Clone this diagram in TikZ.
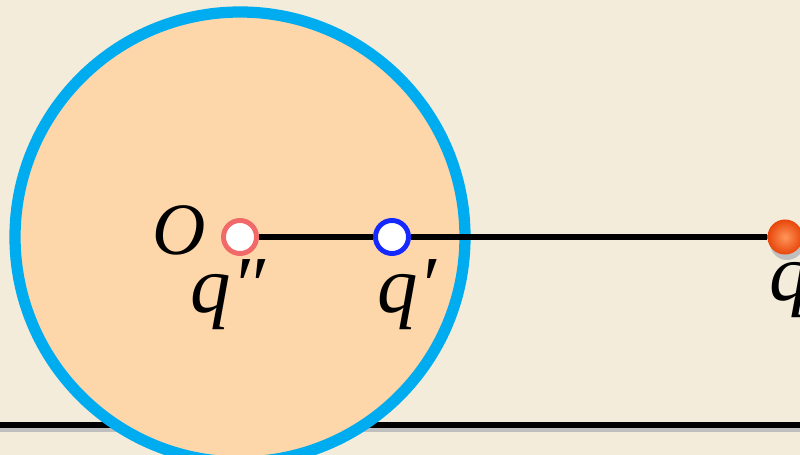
\documentclass[tikz,border=0pt]{standalone}
\usepackage{fontspec}
\setmainfont{Liberation Serif}
\usepackage{tikz}
\usetikzlibrary{positioning, calc, shadings}
\definecolor{paperBg}{RGB}{243, 236, 219}
\definecolor{sphereFill}{RGB}{253, 214, 170}
\definecolor{sphereRing}{RGB}{0, 172, 240}
\definecolor{imageRed}{RGB}{242, 105, 105}
\definecolor{imageBlue}{RGB}{20, 40, 255}
\definecolor{chargeOrange}{RGB}{232, 70, 10}
\definecolor{chargeLight}{RGB}{255, 150, 90}
\tikzset{
  imagecharge/.style={
    circle, fill=white, line width=1.4pt,
    minimum size=0.33cm, inner sep=0pt
  },
  realcharge/.style={
    circle, shading=radial, inner color=chargeLight, outer color=chargeOrange,
    minimum size=0.35cm, inner sep=0pt
  },
  rodline/.style={
    line width=1.45pt, color=black
  },
  chargelabel/.style={
    font=\fontsize{23}{23}\selectfont\itshape, inner sep=0pt
  }
}

\begin{document}
\begin{tikzpicture}[x=0.01cm, y=-0.01cm]

  % background and frame
  \fill[paperBg] (0,0) rectangle (800,455);
  \useasboundingbox (0,0) rectangle (800,455);

  \coordinate (floorL) at (0,425);
  \coordinate (floorR) at (800,425);
  \draw[line width=1.5pt, black!25] ($(floorL)+(0,4)$) -- ($(floorR)+(0,4)$);
  \draw[rodline] (floorL) -- (floorR);

  % conducting sphere
  \coordinate (O) at (240,237);
  \draw[fill=sphereFill, draw=sphereRing, line width=3.2pt] (O) circle (225);

  \node[imagecharge, draw=imageRed] (qpp) at (O) {};
  \node[imagecharge, draw=imageBlue] (qp) at (392,237) {};
  \fill[black!25] (787,243) circle (17);
  \node[realcharge] (q) at (785,237) {};

  \draw[rodline] (qpp) -- (qp);
  \draw[rodline] (qp) -- (q);

  \node[font=\fontsize{21}{21}\selectfont\itshape, anchor=east, inner sep=0pt] (olab)
    at (207,230) {O};
  \node[chargelabel] (qpplab) at (228,295) {q″};
  \node[chargelabel] (qplab) at (407,295) {q′};
  \node[chargelabel] (qlab) at (790,290) {q};

\end{tikzpicture}
\end{document}
